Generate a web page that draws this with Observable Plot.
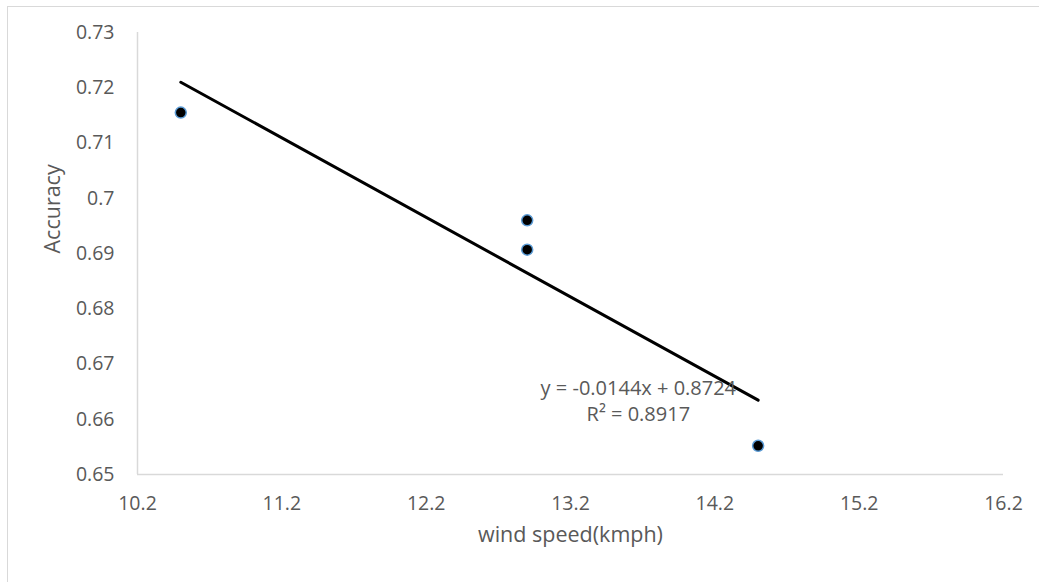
<!DOCTYPE html>
<html>
<head>
<meta charset="utf-8">
<script src="https://cdn.jsdelivr.net/npm/d3@7"></script>
<script src="https://cdn.jsdelivr.net/npm/@observablehq/plot@0.6"></script>
<style>
  html, body { margin: 0; padding: 0; background: #fff; }
  #wrap { position: relative; width: 1039px; height: 582px; overflow: hidden; }
  #frame { position: absolute; left: 7px; top: 6px; width: 1100px; height: 700px;
           border-top: 1.5px solid #d9d9d9; border-left: 1.5px solid #d9d9d9; pointer-events: none; }
  #wrap svg { position: absolute; left: 0; top: 0; }
</style>
</head>
<body>
<div id="wrap"><div id="frame"></div></div>
<script>
// Data
const windSpeed = [10.5, 12.9, 12.9, 14.5];
const accuracy  = [0.7155, 0.696, 0.6907, 0.6552];
const xTicks = [10.2, 11.2, 12.2, 13.2, 14.2, 15.2, 16.2];
const yTicks = [0.65, 0.66, 0.67, 0.68, 0.69, 0.70, 0.71, 0.72, 0.73];
const xTitle = "wind speed(kmph)";
const yTitle = "Accuracy";
const equationLabel = "y = -0.0144x + 0.8724\nR² = 0.8917";

const data = windSpeed.map((x, i) => ({x, y: accuracy[i]}));

const textColor = "#595959";
const axisColor = "#d9d9d9";

const chart = Plot.plot({
  width: 1039,
  height: 582,
  marginLeft: 137,
  marginRight: 36,
  marginTop: 32,
  marginBottom: 108,
  style: {fontFamily: "'Open Sans', sans-serif", fontSize: "19.5px", color: textColor, background: "transparent"},
  x: {domain: [10.2, 16.2]},
  y: {domain: [0.65, 0.73]},
  marks: [
    Plot.ruleX([xTicks[0]], {stroke: axisColor, strokeWidth: 1.5}),
    Plot.ruleY([yTicks[0]], {stroke: axisColor, strokeWidth: 1.5}),
    Plot.axisX({ticks: xTicks, tickSize: 0, tickPadding: 22, tickFormat: d => d.toFixed(1), label: null}),
    Plot.axisY({ticks: yTicks, tickSize: 0, tickPadding: 23, tickFormat: d => String(+d.toFixed(2)), label: null}),
    Plot.linearRegressionY(data, {x: "x", y: "y", ci: 0, stroke: "black", strokeWidth: 3}),
    Plot.dot(data, {x: "x", y: "y", r: 5.5, fill: "black", stroke: "#5b9bd5", strokeWidth: 1.5}),
    Plot.text([equationLabel], {x: () => 13.67, y: () => 0.6636, text: d => d, fontSize: 20, fill: textColor, lineHeight: 1.35, textAnchor: "middle"}),
    Plot.text([yTitle], {frameAnchor: "left", dx: -84, rotate: -90, text: d => d, fontSize: 21.5, fill: textColor}),
    Plot.text([xTitle], {frameAnchor: "bottom", dy: 67, text: d => d, fontSize: 21.5, fill: textColor})
  ]
});
document.getElementById("wrap").appendChild(chart);
</script>
</body>
</html>
